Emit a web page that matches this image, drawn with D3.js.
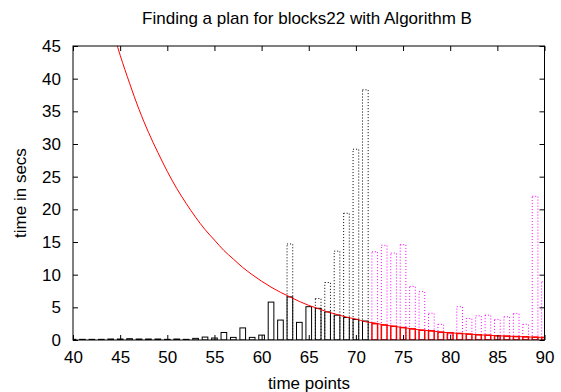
<!DOCTYPE html>
<html>
<head>
<meta charset="utf-8">
<script src="https://cdn.jsdelivr.net/npm/d3@7"></script>
<style>
  body { margin: 0; background: #fff; }
  svg { font-family: "Liberation Sans", Arial, sans-serif; }
  .axis path { display: none; }
  .axis line { stroke: #000; }
  .axis text { font-size: 17px; fill: #000; }
</style>
</head>
<body>
<svg width="561" height="392"></svg>
<script>
// black solid bars, time points 40..71
var solidX = d3.range(40, 72);
var solidVals = [0.1, 0.1, 0.1, 0.1, 0.15, 0.15, 0.2, 0.15, 0.15, 0.15, 0.1, 0.15, 0.1, 0.25, 0.45, 0.3,
                 1.15, 0.4, 1.85, 0.4, 0.75, 5.8, 3.05, 6.6, 2.7, 5.1, 4.85, 4.3, 3.8, 3.45, 3.15, 2.9];
// black dotted bars
var dottedX = [63, 66, 67, 68, 69, 70, 71];
var dottedVals = [14.7, 6.35, 8.8, 13.6, 19.4, 29.2, 38.3];
// magenta dotted bars, 72..90
var magX = d3.range(72, 91);
var magVals = [13.5, 14.5, 13.3, 14.6, 8.2, 7.4, 4.1, 2.4, 0.8, 5.1, 3.3, 3.7, 3.8, 3.15, 3.55, 4.05, 2.4, 22.0, 8.9];
// red solid bars, 72..90
var redX = d3.range(72, 91);
var redVals = [2.5, 2.3, 2.1, 1.9, 1.7, 1.5, 1.4, 1.2, 1.1, 1.0, 0.9, 0.8, 0.73, 0.65, 0.59, 0.53, 0.48, 0.43, 0.39];
// red curve, read at each time point
var curveX = d3.range(44, 91);
var curveVals = [48.4, 43.6, 39.3, 35.3, 31.8, 28.7, 25.8, 23.2, 20.9, 18.8, 16.9, 15.3, 13.7, 12.4, 11.1, 10.0,
                 9.0, 8.1, 7.3, 6.6, 5.9, 5.3, 4.8, 4.3, 3.9, 3.5, 3.2, 2.8, 2.6, 2.3, 2.1, 1.9, 1.7, 1.5,
                 1.4, 1.2, 1.1, 1.0, 0.9, 0.8, 0.73, 0.65, 0.59, 0.53, 0.48, 0.43, 0.39];

var xTicks = d3.range(40, 91, 5);
var yTicks = d3.range(0, 46, 5);

(function() {
  var svg = d3.select('svg');
  var pLeft = 73, pRight = 544.5, pTop = 46, pBottom = 340;
  var x = d3.scaleLinear().domain([40, 90]).range([pLeft, pRight]);
  var y = d3.scaleLinear().domain([0, 45]).range([pBottom, pTop]);
  var bw = x(40.6) - x(40);

  svg.append('defs').append('clipPath').attr('id', 'clip')
    .append('rect').attr('x', pLeft).attr('y', pTop).attr('width', pRight - pLeft).attr('height', pBottom - pTop);

  var plot = svg.append('g').attr('clip-path', 'url(#clip)');

  function bars(xs, vals, color, dash, width) {
    plot.append('g').selectAll('rect')
      .data(xs.map(function(d, i) { return [d, vals[i]]; }))
      .enter().append('rect')
        .attr('x', d => x(d[0]) - bw / 2)
        .attr('y', d => y(d[1]))
        .attr('width', bw)
        .attr('height', d => y(0) - y(d[1]))
        .attr('fill', 'none')
        .attr('stroke', color)
        .attr('stroke-width', width)
        .attr('stroke-dasharray', dash);
  }

  bars(solidX, solidVals, '#000', null, 1);
  bars(dottedX, dottedVals, '#000', '1,2', 1);
  bars(magX, magVals, '#ff00ff', '1,2', 1);
  bars(redX, redVals, '#ff0000', null, 1.5);

  var line = d3.line().x(d => x(d[0])).y(d => y(d[1])).curve(d3.curveMonotoneX);
  plot.append('path')
    .datum(curveX.map(function(d, i) { return [d, curveVals[i]]; }))
    .attr('d', line)
    .attr('fill', 'none')
    .attr('stroke', '#ff0000')
    .attr('stroke-width', 1);

  // axes with inward ticks on all sides
  svg.append('g').attr('class', 'axis')
    .attr('transform', 'translate(0,' + pBottom + ')')
    .call(d3.axisBottom(x).tickValues(xTicks).tickSize(-5).tickPadding(11));
  svg.append('g').attr('class', 'axis')
    .attr('transform', 'translate(0,' + pTop + ')')
    .call(d3.axisTop(x).tickValues(xTicks).tickSize(-5).tickFormat(''));
  svg.append('g').attr('class', 'axis')
    .attr('transform', 'translate(' + pLeft + ',0)')
    .call(d3.axisLeft(y).tickValues(yTicks).tickSize(-5).tickPadding(12));
  svg.append('g').attr('class', 'axis')
    .attr('transform', 'translate(' + pRight + ',0)')
    .call(d3.axisRight(y).tickValues(yTicks).tickSize(-5).tickFormat(''));

  svg.append('rect')
    .attr('x', pLeft).attr('y', pTop).attr('width', pRight - pLeft).attr('height', pBottom - pTop)
    .attr('fill', 'none').attr('stroke', '#000').attr('stroke-width', 1);

  svg.append('text').attr('x', 307).attr('y', 24).attr('text-anchor', 'middle')
    .style('font-size', '17px').text('Finding a plan for blocks22 with Algorithm B');
  svg.append('text').attr('x', 309).attr('y', 389).attr('text-anchor', 'middle')
    .style('font-size', '17px').text('time points');
  svg.append('text').attr('transform', 'translate(26,193) rotate(-90)').attr('text-anchor', 'middle')
    .style('font-size', '17px').text('time in secs');
})();
</script>
</body>
</html>
